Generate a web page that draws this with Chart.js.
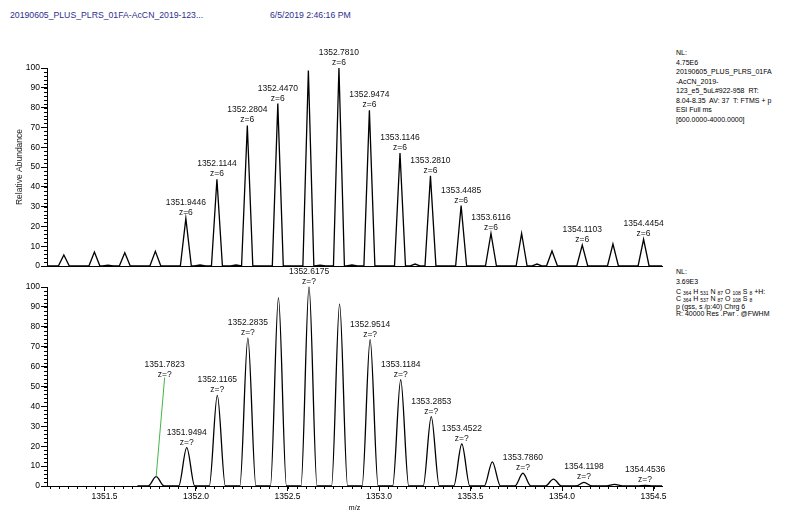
<!DOCTYPE html>
<html>
<head>
<meta charset="utf-8">
<script src="https://cdn.jsdelivr.net/npm/chart.js@4.4.1/dist/chart.umd.min.js"></script>
<style>
  body { margin:0; width:794px; height:510px; overflow:hidden; background:#fff; position:relative;
         font-family:"Liberation Sans", Arial, sans-serif; }
  .txt { position:absolute; white-space:nowrap; color:#000; }
  .hdr { top:10px; font-size:8.7px; line-height:10px; color:#2e2e8e; }
  .info { left:676px; font-size:7px; line-height:9.5px; }
  .ln { line-height:8px; }
  .info sub { font-size:5px; vertical-align:-1px; line-height:0; }
  canvas { position:absolute; left:0; }
</style>
</head>
<body>
<div class="txt hdr" style="left:10px">20190605_PLUS_PLRS_01FA-AcCN_2019-123...</div>
<div class="txt hdr" style="left:270px">6/5/2019 2:46:16 PM</div>

<div class="txt info" style="top:48px">NL:<br>4.75E6<br>20190605_PLUS_PLRS_01FA<br>-AcCN_2019-<br>123_e5_5uL#922-958&nbsp; RT:<br>8.04-8.35&nbsp; AV: 37&nbsp; T: FTMS + p<br>ESI Full ms<br>[600.0000-4000.0000]</div>

<div class="txt info" style="top:267px">NL:<br>3.69E3</div>
<div class="txt info ln" style="top:287.5px">C <sub>364</sub> H <sub>531</sub> N <sub>87</sub> O <sub>108</sub> S <sub>8</sub> +H:</div>
<div class="txt info ln" style="top:295.3px">C <sub>364</sub> H <sub>537</sub> N <sub>87</sub> O <sub>108</sub> S <sub>8</sub></div>
<div class="txt info ln" style="top:303px">p (gss, s /p:40) Chrg 6</div>
<div class="txt info ln" style="top:310.3px">R: 40000 Res .Pwr . @FWHM</div>

<canvas id="topChart" width="680" height="235" style="top:40px"></canvas>
<canvas id="botChart" width="680" height="256" style="top:260px"></canvas>

<script>
// shared m/z window and axis ticks
const MZ_MIN = 1351.186, MZ_MAX = 1354.546;
const X_TICKS = [1351.5, 1352.0, 1352.5, 1353.0, 1353.5, 1354.0, 1354.5];
const Y_TICKS = [0, 10, 20, 30, 40, 50, 60, 70, 80, 90, 100];

// measured cluster: centroid m/z, relative abundance, labelled or not
const measMz = [1351.278, 1351.445, 1351.519, 1351.611, 1351.778, 1351.9446, 1352.022, 1352.1144,
  1352.219, 1352.2804, 1352.4470, 1352.614, 1352.678, 1352.7810, 1352.852, 1352.9474, 1353.1146,
  1353.197, 1353.2810, 1353.4485, 1353.6116, 1353.779, 1353.863, 1353.945, 1354.1103, 1354.278, 1354.4454];
const measAbund = [5.6, 7.1, 0.4, 6.7, 7.4, 24, 0.5, 43.8,
  0.5, 71, 82, 98.7, 0.4, 100, 0.5, 78.6, 57,
  1.0, 45.5, 30.5, 16.5, 16.5, 1.0, 7.6, 10.6, 11.1, 13.5];
const measTagged = [0, 0, 0, 0, 0, 1, 0, 1,
  0, 1, 1, 0, 0, 1, 0, 1, 1,
  0, 1, 1, 1, 0, 0, 0, 1, 0, 1];

// simulated pattern for C364 H537 N87 O108 S8, z=6
const theoMz = [1351.7823, 1351.9494, 1352.1165, 1352.2835, 1352.4505, 1352.6175, 1352.7845, 1352.9514,
  1353.1184, 1353.2853, 1353.4522, 1353.6191, 1353.7860, 1353.9529, 1354.1198, 1354.2867, 1354.4536];
const theoAbund = [4.7, 19.3, 45.5, 74.3, 94.5, 100, 91.4, 73.5,
  53.4, 34.9, 21.1, 12.1, 6.4, 3.5, 1.8, 0.8, 0.3];
const theoTagged = [1, 1, 1, 1, 0, 1, 0, 1, 1, 1, 1, 0, 1, 0, 1, 0, 1];
const THEO_START = 1351.68;

const FONT = '"Liberation Sans", Arial, sans-serif';

// peak profile: baseline - apex - baseline for every centroid
function profile(mz, ab, hw, start, end) {
  const pts = [{x: start, y: 0}];
  mz.forEach((m, i) => {
    pts.push({x: m - hw, y: 0}, {x: m, y: ab[i]}, {x: m + hw, y: 0});
  });
  pts.push({x: end, y: 0});
  return pts;
}

// small unlabelled ticks between the major ones
const minorTicks = {
  id: 'minorTicks',
  afterDraw(chart, args, opts) {
    const {ctx, chartArea, scales: {x, y}} = chart;
    ctx.save();
    ctx.strokeStyle = '#000';
    ctx.lineWidth = 1;
    ctx.beginPath();
    if (opts.yStep) {
      for (let v = y.min; v <= y.max + 1e-9; v += opts.yStep) {
        const py = Math.round(y.getPixelForValue(v)) + 0.5;
        ctx.moveTo(chartArea.left - 3, py);
        ctx.lineTo(chartArea.left, py);
      }
    }
    if (opts.xStep) {
      for (let v = Math.ceil(x.min / opts.xStep) * opts.xStep; v <= x.max; v += opts.xStep) {
        const px = Math.round(x.getPixelForValue(v)) + 0.5;
        ctx.moveTo(px, chartArea.bottom);
        ctx.lineTo(px, chartArea.bottom + 3);
      }
    }
    ctx.stroke();
    ctx.restore();
  }
};

// m/z and charge written over each labelled peak
const peakTags = {
  id: 'peakTags',
  afterDatasetsDraw(chart, args, opts) {
    const {ctx, scales: {x, y}} = chart;
    ctx.save();
    ctx.font = '8.5px ' + FONT;
    ctx.fillStyle = '#111';
    ctx.textAlign = 'center';
    opts.mz.forEach((m, i) => {
      if (!opts.tagged[i]) return;
      const px = x.getPixelForValue(m);
      const py = y.getPixelForValue(opts.abund[i]);
      let tx = px, ty = py - 3;
      const ld = opts.leader;
      if (ld && ld.index === i) {
        tx = px + ld.dx;
        ty = y.getPixelForValue(ld.y);
        ctx.strokeStyle = ld.color;
        ctx.lineWidth = 1;
        ctx.beginPath();
        ctx.moveTo(tx, ty + 1);
        ctx.lineTo(px, py);
        ctx.stroke();
      }
      ctx.fillText(m.toFixed(4), tx, ty - 10);
      ctx.fillText(opts.charge, tx, ty);
    });
    ctx.restore();
  }
};

function yScale(withTitle) {
  return {
    type: 'linear', min: 0, max: 100,
    afterBuildTicks: s => { s.ticks = Y_TICKS.map(v => ({value: v})); },
    afterFit: s => { s.width = 47; },
    ticks: { font: {family: FONT, size: 8.5}, color: '#000', padding: 1 },
    grid: { drawOnChartArea: false, tickLength: 6, color: '#000' },
    border: { color: '#000', width: 1 },
    title: { display: withTitle, text: 'Relative Abundance', color: '#222',
             font: {family: FONT, size: 8.5}, padding: {top: 15, bottom: 0} }
  };
}

const topChart = new Chart(document.getElementById('topChart'), {
  type: 'line',
  data: {
    datasets: [{
      data: profile(measMz, measAbund, 0.03, MZ_MIN, MZ_MAX),
      borderColor: '#000', borderWidth: 1.3, pointRadius: 0, tension: 0, clip: false
    }]
  },
  options: {
    responsive: false, animation: false,
    layout: { padding: {top: 28, right: 18, bottom: 9, left: 0} },
    scales: {
      x: {
        type: 'linear', min: MZ_MIN, max: MZ_MAX,
        afterFit: s => { s.height = 0; },
        ticks: { display: false },
        grid: { drawOnChartArea: false, drawTicks: false },
        border: { color: '#000', width: 1 }
      },
      y: yScale(true)
    },
    plugins: {
      legend: { display: false }, tooltip: { enabled: false },
      minorTicks: { yStep: 2 },
      peakTags: { mz: measMz, abund: measAbund, tagged: measTagged, charge: 'z=6' }
    }
  },
  plugins: [minorTicks, peakTags]
});

const botChart = new Chart(document.getElementById('botChart'), {
  type: 'line',
  data: {
    datasets: [{
      data: profile(theoMz, theoAbund, 0.044, THEO_START, MZ_MAX),
      borderColor: '#000', borderWidth: 1.3, pointRadius: 0,
      cubicInterpolationMode: 'monotone', clip: false
    }]
  },
  options: {
    responsive: false, animation: false,
    layout: { padding: {top: 27, right: 18, bottom: 0, left: 0} },
    scales: {
      x: {
        type: 'linear', min: MZ_MIN, max: MZ_MAX,
        afterBuildTicks: s => { s.ticks = X_TICKS.map(v => ({value: v})); },
        afterFit: s => { s.height = 30; },
        ticks: { font: {family: FONT, size: 8.5}, color: '#000', padding: 1,
                 maxRotation: 0, autoSkip: false, callback: v => v.toFixed(1) },
        grid: { drawOnChartArea: false, tickLength: 5, color: '#000' },
        border: { color: '#000', width: 1 },
        title: { display: true, text: 'm/z', color: '#000',
                 font: {family: FONT, size: 7}, padding: {top: 0, bottom: 4} }
      },
      y: yScale(false)
    },
    plugins: {
      legend: { display: false }, tooltip: { enabled: false },
      minorTicks: { yStep: 2, xStep: 0.05 },
      peakTags: { mz: theoMz, abund: theoAbund, tagged: theoTagged, charge: 'z=?',
                  leader: { index: 0, dx: 8.5, y: 55, color: '#46b446' } }
    }
  },
  plugins: [minorTicks, peakTags]
});
</script>
</body>
</html>
